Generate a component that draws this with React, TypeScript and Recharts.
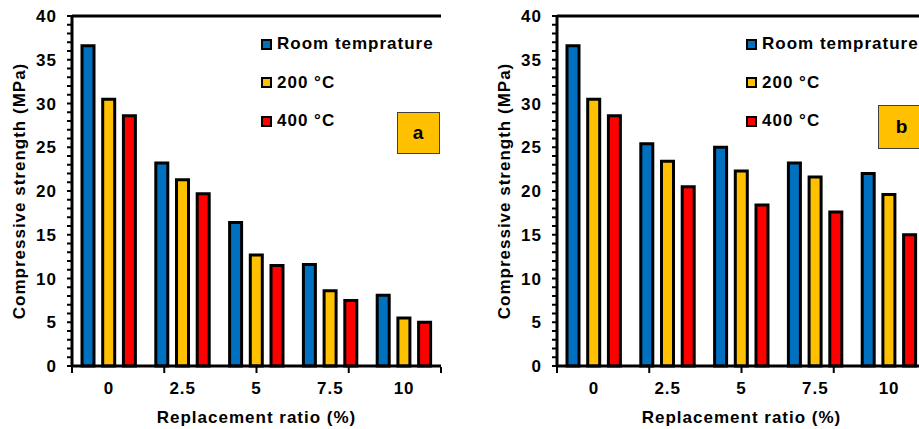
import React from "react";
import {
  Bar,
  BarChart,
  Legend,
  ReferenceLine,
  XAxis,
  YAxis,
} from "recharts";

const ratios = ["0", "2.5", "5", "7.5", "10"];

// panel a
const roomA = [36.6, 23.2, 16.4, 11.6, 8.1];
const c200A = [30.5, 21.3, 12.7, 8.6, 5.5];
const c400A = [28.6, 19.7, 11.5, 7.5, 5.0];

// panel b
const roomB = [36.6, 25.4, 25.0, 23.2, 22.0];
const c200B = [30.5, 23.4, 22.3, 21.6, 19.6];
const c400B = [28.6, 20.5, 18.4, 17.6, 15.0];

const seriesNames = ["Room temprature", "200 °C", "400 °C"];
const seriesColors = ["#0070C0", "#FFC000", "#FF0000"];

const yTicks = Array.from({ length: 41 }, (_, i) => i);
const edgeTicks = [0, 1, 2, 3, 4, 5];

const FONT = '"Liberation Sans", Arial, sans-serif';
const textStyle = { fontFamily: FONT, fontWeight: 700, fontSize: 17, letterSpacing: 1 };

function buildRows(room: number[], c200: number[], c400: number[]) {
  return ratios.map((ratio, i) => ({
    ratio,
    room: room[i],
    c200: c200[i],
    c400: c400[i],
  }));
}

function YTick(props: any) {
  const { x, y, payload } = props;
  if (payload.value % 5 !== 0) return <g />;
  return (
    <text x={x} y={y} dy={6} textAnchor="end" fill="#000" style={textStyle}>
      {payload.value}
    </text>
  );
}

function XTick(props: any) {
  const { x, y, payload } = props;
  return (
    <text x={x} y={y} dy={12} textAnchor="middle" fill="#000" style={textStyle}>
      {payload.value}
    </text>
  );
}

function EmptyTick() {
  return <g />;
}

function YTitle(props: any) {
  const { viewBox } = props;
  const cx = viewBox.x + 19;
  const cy = viewBox.y + viewBox.height / 2;
  return (
    <text
      x={cx}
      y={cy}
      transform={`rotate(-90 ${cx} ${cy})`}
      textAnchor="middle"
      dominantBaseline="central"
      fill="#000"
      style={textStyle}
    >
      Compressive strength (MPa)
    </text>
  );
}

function XTitle(props: any) {
  const { viewBox } = props;
  return (
    <text
      x={viewBox.x + viewBox.width / 2}
      y={viewBox.y + 57}
      textAnchor="middle"
      fill="#000"
      style={textStyle}
    >
      Replacement ratio (%)
    </text>
  );
}

function LegendBox() {
  return (
    <div style={{ ...textStyle, color: "#000" }}>
      {seriesNames.map((name, i) => (
        <div
          key={name}
          style={{ display: "flex", alignItems: "center", height: 38.5, whiteSpace: "nowrap" }}
        >
          <span
            style={{
              display: "inline-block",
              width: 11,
              height: 11,
              boxSizing: "border-box",
              border: "2px solid #000",
              background: seriesColors[i],
              marginRight: 5,
            }}
          />
          {name}
        </div>
      ))}
    </div>
  );
}

function Panel({
  left,
  room,
  c200,
  c400,
  tag,
  tagBox,
}: {
  left: number;
  room: number[];
  c200: number[];
  c400: number[];
  tag: string;
  tagBox: { left: number; top: number; width: number; height: number };
}) {
  const rows = buildRows(room, c200, c400);
  return (
    <div style={{ position: "absolute", left, top: 0, width: 460, height: 429 }}>
      <BarChart
        width={460}
        height={429}
        data={rows}
        margin={{ top: 16, right: 19, left: 0, bottom: 61 }}
        barSize={12}
        barGap={8.7}
      >
        <XAxis
          xAxisId="edges"
          type="number"
          domain={[0, 5]}
          ticks={edgeTicks}
          allowDataOverflow
          height={1}
          axisLine={false}
          tickLine={{ stroke: "#000", strokeWidth: 2 }}
          tickSize={6}
          tick={<EmptyTick />}
        />
        <XAxis
          dataKey="ratio"
          height={1}
          tickLine={false}
          tickSize={6}
          tickMargin={10}
          axisLine={{ stroke: "#000", strokeWidth: 3 }}
          tick={<XTick />}
          interval={0}
          label={<XTitle />}
        />
        <YAxis
          width={72}
          domain={[0, 40]}
          ticks={yTicks}
          interval={0}
          tickSize={5}
          tickMargin={10}
          axisLine={{ stroke: "#000", strokeWidth: 3 }}
          tickLine={{ stroke: "#000", strokeWidth: 2 }}
          tick={<YTick />}
          label={<YTitle />}
        />
        <ReferenceLine y={40} stroke="#000" strokeWidth={3} />
        <ReferenceLine x={5} xAxisId="edges" stroke="#000" strokeWidth={3} />
        <Legend
          layout="vertical"
          align="center"
          verticalAlign="middle"
          wrapperStyle={{ left: 261, top: 25, width: "auto", height: "auto" }}
          content={() => <LegendBox />}
        />
        <Bar dataKey="room" name={seriesNames[0]} fill={seriesColors[0]} stroke="#000" strokeWidth={3} isAnimationActive={false} />
        <Bar dataKey="c200" name={seriesNames[1]} fill={seriesColors[1]} stroke="#000" strokeWidth={3} isAnimationActive={false} />
        <Bar dataKey="c400" name={seriesNames[2]} fill={seriesColors[2]} stroke="#000" strokeWidth={3} isAnimationActive={false} />
      </BarChart>
      <div
        style={{
          position: "absolute",
          ...tagBox,
          boxSizing: "border-box",
          background: "#FFC000",
          border: "1px solid #404040",
          display: "flex",
          alignItems: "center",
          justifyContent: "center",
          ...textStyle,
          fontSize: 19,
          color: "#000",
        }}
      >
        {tag}
      </div>
    </div>
  );
}

export default function App() {
  return (
    <div
      style={{
        position: "absolute",
        left: 0,
        top: 0,
        width: 919,
        height: 429,
        overflow: "hidden",
        background: "#fff",
      }}
    >
      <Panel
        left={0}
        room={roomA}
        c200={c200A}
        c400={c400A}
        tag="a"
        tagBox={{ left: 397, top: 112, width: 43, height: 42 }}
      />
      <Panel
        left={485}
        room={roomB}
        c200={c200B}
        c400={c400B}
        tag="b"
        tagBox={{ left: 393, top: 105, width: 48, height: 44 }}
      />
    </div>
  );
}
